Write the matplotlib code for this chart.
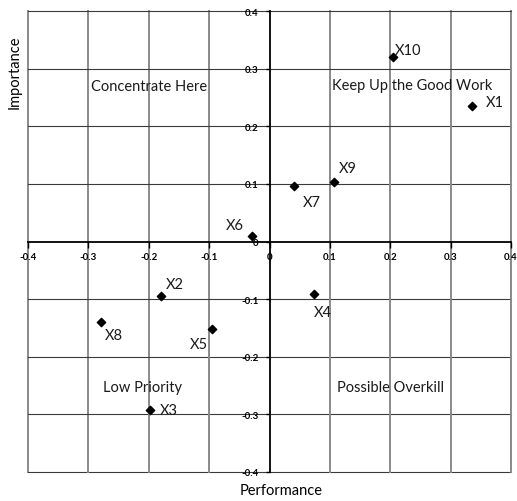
import matplotlib
matplotlib.use("Agg")
import matplotlib.pyplot as plt

# ---- data ----
names = ["X1", "X2", "X3", "X4", "X5", "X6", "X7", "X8", "X9", "X10"]
performance = [0.336, -0.179, -0.198, 0.073, -0.095, -0.029, 0.041, -0.279, 0.106, 0.205]
importance = [0.235, -0.095, -0.293, -0.091, -0.152, 0.010, 0.097, -0.139, 0.103, 0.321]
# label offsets in points (dx, dy) and horizontal alignment
label_offsets = {
    "X1": (10, 3, "left"), "X2": (3, 9, "left"), "X3": (7, 0, "left"),
    "X4": (0, -13, "left"), "X5": (-3, -11, "right"), "X6": (-6, 8, "right"),
    "X7": (6, -12, "left"), "X8": (3, -10, "left"), "X9": (4, 10, "left"),
    "X10": (1, 5, "left"),
}
ticks = [-0.4, -0.3, -0.2, -0.1, 0.0, 0.1, 0.2, 0.3, 0.4]
tick_labels = ["-0.4", "-0.3", "-0.2", "-0.1", "0", "0.1", "0.2", "0.3", "0.4"]
quadrants = [("Concentrate Here", -0.199, 0.27), ("Keep Up the Good Work", 0.237, 0.271),
             ("Low Priority", -0.211, -0.253), ("Possible Overkill", 0.201, -0.253)]

plt.rcParams['font.family'] = ['Lato', 'DejaVu Sans']

fig = plt.figure(figsize=(5.17, 5.02), dpi=100)
ax = fig.add_axes([0.0542, 0.0578, 0.9342, 0.9182])
ax.set_xlim(-0.4, 0.4)
ax.set_ylim(-0.4, 0.4)

for t in ticks:
    if t != 0:
        ax.axvline(t, color="#8a8a8a", lw=1.4, zorder=1, clip_on=False)
        ax.axhline(t, color="#3a3a3a", lw=0.8, zorder=1, clip_on=False)

for s in ["top", "right"]:
    ax.spines[s].set_visible(False)
ax.spines["left"].set_position(("data", 0))
ax.spines["bottom"].set_position(("data", 0))
ax.spines["left"].set_linewidth(1.3)
ax.spines["bottom"].set_linewidth(1.3)
ax.spines["left"].set_zorder(2)
ax.spines["bottom"].set_zorder(2)

ax.set_xticks(ticks)
ax.set_xticklabels(tick_labels)
ax.set_yticks(ticks)
ax.set_yticklabels(tick_labels)
ax.tick_params(axis="x", direction="out", length=4, width=1, pad=3.5, labelsize=7)
ax.tick_params(axis="y", direction="out", length=3, width=1, pad=5, labelsize=7)
for lab in ax.get_xticklabels() + ax.get_yticklabels():
    lab.set_fontweight("bold")

ax.scatter(performance, importance, marker="D", s=18, color="black", zorder=5)
for n, x, y in zip(names, performance, importance):
    dx, dy, ha = label_offsets[n]
    ax.annotate(n, (x, y), xytext=(dx, dy), textcoords="offset points",
                ha=ha, va="center", fontsize=10.5, color="#1a1a1a")

for txt, x, y in quadrants:
    ax.text(x, y, txt, ha="center", va="center", fontsize=10.5, color="#1a1a1a")

fig.text(281 / 517, 1 - 491 / 502, "Performance", ha="center", va="center", fontsize=10.5)
fig.text(15 / 517, 1 - 72 / 502, "Importance", ha="center", va="center", fontsize=10.5, rotation=90)

fig.savefig("out.png", dpi=100)
